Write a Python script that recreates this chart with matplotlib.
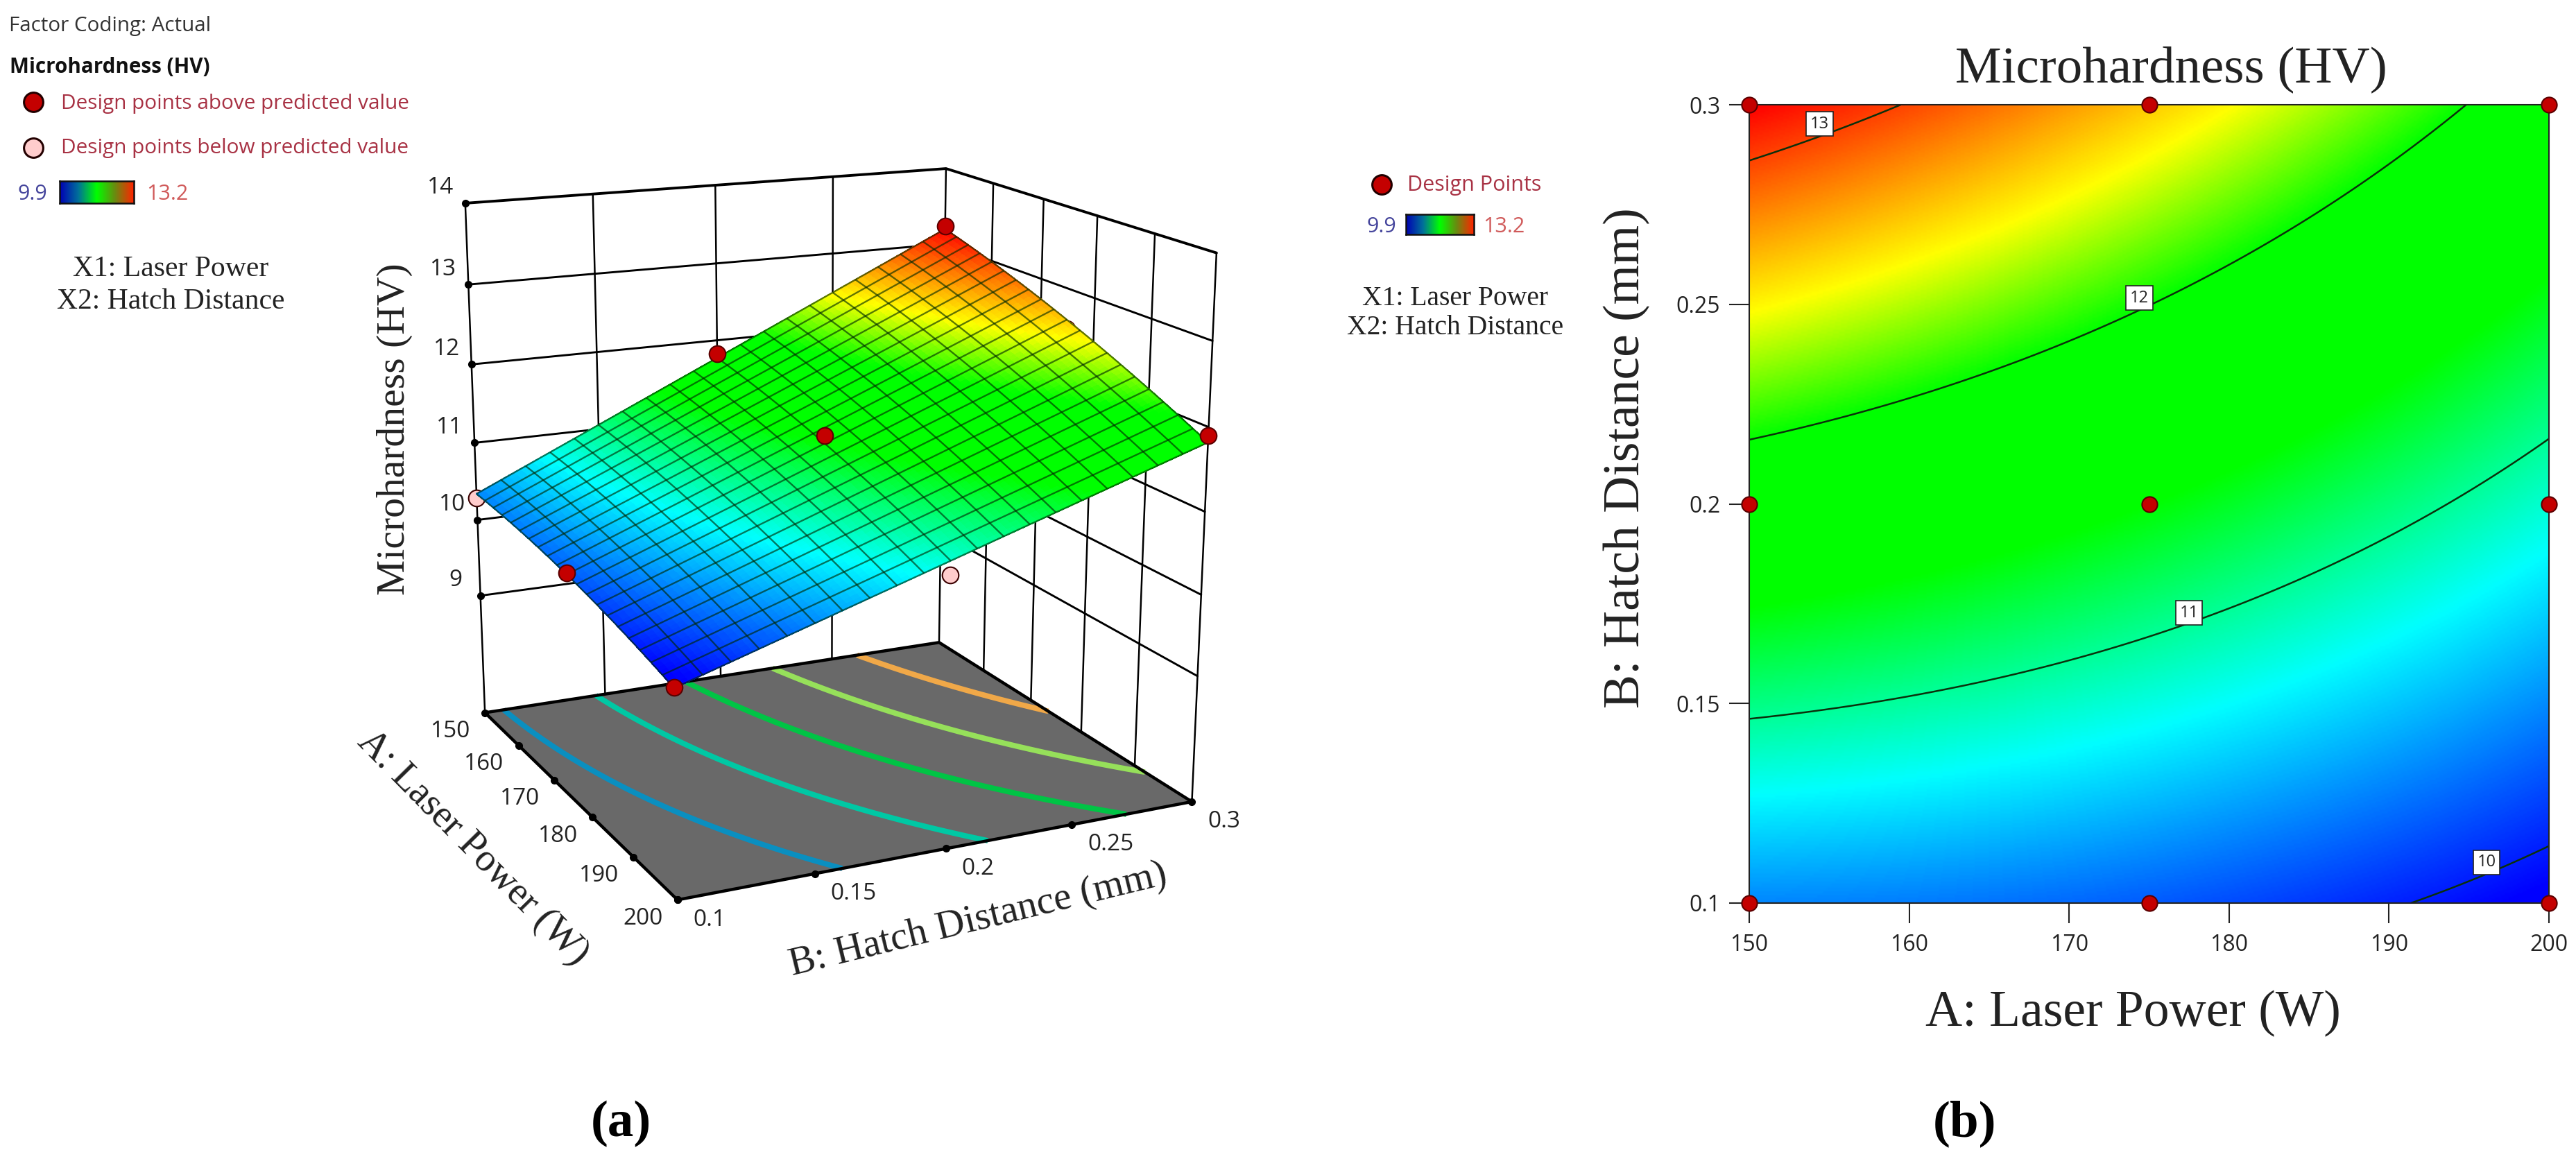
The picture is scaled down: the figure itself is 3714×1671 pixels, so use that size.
import numpy as np
import matplotlib
matplotlib.use("Agg")
import matplotlib.pyplot as plt
from matplotlib.colors import LinearSegmentedColormap
from matplotlib.lines import Line2D

W, H = 3714, 1671

# ---- data -------------------------------------------------------------
power_levels = [150, 175, 200]
hatch_levels = [0.1, 0.2, 0.3]
# predicted response (rows: power, cols: hatch)
predicted_150 = [10.34, 11.77, 13.20]
predicted_175 = [10.20, 11.40, 12.61]
predicted_200 = [9.86, 10.84, 11.82]
# design points (rows: power, cols: hatch)
design_150 = [10.29, 11.82, 13.24]
design_175 = [10.22, 11.50, 12.50]
design_200 = [9.87, 10.68, 11.90]
# True where the point is printed as "below predicted value" (pale marker)
pale_150 = [True, False, False]
pale_175 = [False, False, False]
pale_200 = [False, True, False]
power_ticks = [150, 160, 170, 180, 190, 200]
hatch_ticks = [0.1, 0.15, 0.2, 0.25, 0.3]
hatch_tick_labels = ["0.1", "0.15", "0.2", "0.25", "0.3"]
z_ticks = [9, 10, 11, 12, 13, 14]
z_floor = 7.42
floor_levels = [10.45, 11.0, 11.55, 12.1, 12.65]
floor_colors = ["#0a8fc0", "#00c8a4", "#00c445", "#96e05a", "#f0a848"]
contour_levels = [10, 11, 12, 13]
contour_label_power = [196.1, 177.5, 174.4, 154.4]
contour_label_hatch = [0.1102, 0.1727, 0.2516, 0.2952]
z_min, z_max = 9.9, 13.2
color_stops = [9.9, 10.72, 11.4, 12.0, 12.46, 13.2]
color_names = ["#0000ff", "#00ffff", "#00ff00", "#00ff00", "#ffff00", "#ff0000"]

serif = "Liberation Serif"
sans = "Open Sans"
INK = "#222222"
RED = "#c40000"
REDGE = "#3a0000"
PINK = "#ffcccc"
LEG = "#a83244"

rsm = LinearSegmentedColormap.from_list(
    "rsm", [((v - z_min) / (z_max - z_min), c) for v, c in zip(color_stops, color_names)])
legend_cmap = LinearSegmentedColormap.from_list(
    "leg", ["#0000b4", "#00709a", "#00ff00", "#6a8a10", "#ff2400"])


def response(a, b):
    """Quadratic response surface through the predicted table."""
    table = np.array([predicted_150, predicted_175, predicted_200])
    la = (np.asarray(a) - 175.0) / 25.0
    lb = (np.asarray(b) - 0.2) / 0.1
    wa = [la * (la - 1) / 2, 1 - la * la, la * (la + 1) / 2]
    wb = [lb * (lb - 1) / 2, 1 - lb * lb, lb * (lb + 1) / 2]
    out = 0
    for i in range(3):
        for j in range(3):
            out = out + table[i, j] * wa[i] * wb[j]
    return out


fx = lambda x: x / W
fy = lambda y: 1 - y / H

fig = plt.figure(figsize=(W / 100, H / 100), dpi=100, facecolor="white")

# ---- camera for panel (a): fitted to the box corners seen in the picture
anchors = [
    (150, .1, 14, 672, 296), (150, .1, 13, 677, 407), (150, .1, 12, 680, 518),
    (150, .1, 11, 684, 628), (150, .1, 10, 688, 739), (150, .1, 9, 692, 851),
    (150, .1, z_floor, 699, 1026),
    (150, .3, 14, 1362, 243), (150, .3, z_floor, 1354, 927),
    (200, .3, 14, 1750, 366), (200, .3, 13, 1746, 487), (200, .3, 12, 1741, 608),
    (200, .3, 11, 1737, 728), (200, .3, 10, 1733, 848), (200, .3, 9, 1729, 967),
    (200, .3, z_floor, 1720, 1158), (200, .1, z_floor, 977, 1296),
    (200, .15, z_floor, 1163, 1262), (200, .2, z_floor, 1349, 1227), (200, .25, z_floor, 1535, 1193),
    (160, .1, z_floor, 753, 1080), (170, .1, z_floor, 808, 1134),
    (180, .1, z_floor, 865, 1187), (190, .1, z_floor, 921, 1242),
    (150, .15, 14, 847, 285), (150, .2, 14, 1018, 271), (150, .25, 14, 1188, 258),
    (160, .3, 14, 1439, 268), (170, .3, 14, 1517, 294), (180, .3, 14, 1595, 317), (190, .3, 14, 1673, 342),
]
anc = np.array(anchors, float)
S = np.array([[1 / 25, 0, 0, -7], [0, 10, 0, -2], [0, 0, 1 / 3, -11 / 3], [0, 0, 0, 1]])
Xn = (S @ np.c_[anc[:, :3], np.ones(len(anc))].T).T
uv = anc[:, 3:] / 1000.0
rows = []
for p, (u, v) in zip(Xn, uv):
    rows.append(np.r_[p, np.zeros(4), -u * p])
    rows.append(np.r_[np.zeros(4), p, -v * p])
Pn = np.linalg.svd(np.array(rows))[2][-1].reshape(3, 4)
P = np.diag([1000.0, 1000.0, 1.0]) @ Pn @ S
if (P[2] @ np.array([175, .2, 10, 1])) < 0:
    P = -P


def project(a, b, z):
    v = P @ np.array([a, b, z, 1.0])
    return v[0] / v[2], v[1] / v[2]


ax3 = fig.add_axes([0, 0, 0.52, 1], projection="3d", computed_zorder=False)
ax3.set_axis_off()
ax3.patch.set_visible(False)
ax3.apply_aspect = lambda position=None: None
ax3.set_xlim(150, 200)
ax3.set_ylim(0.1, 0.3)
ax3.set_zlim(z_floor, 14)


def custom_proj():
    T = ax3.transData.get_affine().get_matrix()
    D = np.array([[1, 0, 0], [0, -1, H], [0, 0, 1.0]])
    Q = np.linalg.inv(T) @ D @ P
    return np.array([Q[0], Q[1], [0, 0, 0, -1.0], Q[2]])


ax3.get_proj = custom_proj

k = dict(color="black", solid_capstyle="round")
# walls: horizontal lines
for z in z_ticks:
    lw = 2.8 if z == 14 else 2.1
    ax3.plot([150, 150, 200], [.1, .3, .3], [z, z, z], lw=lw, zorder=1, **k)
# walls: vertical lines
for b in hatch_ticks:
    ax3.plot([150, 150], [b, b], [z_floor, 14], lw=1.8, zorder=1, **k)
for a in power_ticks[1:]:
    ax3.plot([a, a], [.3, .3], [z_floor, 14], lw=1.8, zorder=1, **k)

# floor
ax3.plot_surface(np.array([[150, 200], [150, 200]], float),
                 np.array([[.1, .1], [.3, .3]]),
                 np.full((2, 2), z_floor), color="#696969", shade=False,
                 linewidth=0, zorder=2)
ax3.plot([150, 200, 200, 150, 150], [.1, .1, .3, .3, .1], [z_floor] * 5,
         lw=3.2, zorder=4, **k)

# grid of response
A_f = np.linspace(150, 200, 161)
B_f = np.linspace(0.1, 0.3, 161)
AA, BB = np.meshgrid(A_f, B_f)
ZZ = response(AA, BB)
ax3.contour(AA, BB, ZZ, levels=floor_levels, colors=floor_colors, linewidths=5.6,
            zdir="z", offset=z_floor, zorder=3)

# tick dots
ax3.plot(power_ticks, [.1] * len(power_ticks), [z_floor] * len(power_ticks), "o",
         color="black", ms=7, zorder=4)
ax3.plot([200] * len(hatch_ticks), hatch_ticks, [z_floor] * len(hatch_ticks), "o",
         color="black", ms=7, zorder=4)
ax3.plot([150] * len(z_ticks), [.1] * len(z_ticks), z_ticks, "o",
         color="black", ms=7, zorder=4)

design = np.array([design_150, design_175, design_200])
pale = np.array([pale_150, pale_175, pale_200])
pred = response(*np.meshgrid(power_levels, hatch_levels, indexing="ij"))
for i, a in enumerate(power_levels):
    for j, b in enumerate(hatch_levels):
        under = design[i, j] < pred[i, j]
        ax3.plot([a], [b], [design[i, j]], "o", mfc=PINK if pale[i, j] else RED,
                 mec=REDGE if pale[i, j] else "#5a0000", mew=1.5, ms=17,
                 zorder=5 if under else 8)

# surface
A_s = np.linspace(150, 200, 81)
B_s = np.linspace(0.1, 0.3, 81)
AS, BS = np.meshgrid(A_s, B_s)
ZS = response(AS, BS)
ZC = 0.25 * (ZS[:-1, :-1] + ZS[1:, :-1] + ZS[:-1, 1:] + ZS[1:, 1:])
fc = rsm((ZC - z_min) / (z_max - z_min))
ax3.plot_surface(AS, BS, ZS, facecolors=fc, edgecolor=fc.reshape(-1, 4), rstride=1, cstride=1,
                 shade=False, linewidth=0.6, antialiased=False, zorder=6)
ax3.plot_wireframe(AS, BS, ZS, rstride=4, cstride=4, color="#002800", alpha=0.62,
                   linewidth=1.7, zorder=7)

# 3D tick labels
txt = dict(family=sans, color=INK, fontsize=24, ha="center", va="center")
for z in z_ticks:
    x, y = project(150, .1, z)
    fig.text(fx(x - 36), fy(y - 22), str(z), **txt)
for a in power_ticks:
    x, y = project(a, .1, z_floor)
    fig.text(fx(x - 50), fy(y + 27), str(a), **txt)
for b, s in zip(hatch_ticks, hatch_tick_labels):
    x, y = project(200, b, z_floor)
    off = 56 if len(s) == 4 else 46
    fig.text(fx(x + off), fy(y + 29), s, **txt)

st = dict(family=serif, color=INK, ha="center", va="center", rotation_mode="anchor")
fig.text(fx(569), fy(619), "Microhardness (HV)", fontsize=41.5, rotation=90, **st)
fig.text(fx(682), fy(1223), "A: Laser Power (W)", fontsize=40, rotation=-45.5, **st)
fig.text(fx(1410), fy(1326), "B: Hatch Distance (mm)", fontsize=41, rotation=13.7, **st)

# ---- legends ----------------------------------------------------------
fig.text(fx(13), fy(38), "Factor Coding: Actual", family=sans, fontsize=21.3, color="#333333", va="center")
fig.text(fx(14), fy(97), "Microhardness (HV)", family=sans, fontsize=21.3, fontweight="bold", color="#111111", va="center")
fig.text(fx(88), fy(149), "Design points above predicted value", family=sans, fontsize=21.4, color=LEG, va="center")
fig.text(fx(88), fy(214), "Design points below predicted value", family=sans, fontsize=21.4, color=LEG, va="center")
fig.add_artist(Line2D([fx(48)], [fy(147)], transform=fig.transFigure, marker="o", ms=20,
                      mfc=RED, mec="#220000", mew=2.2, ls="none"))
fig.add_artist(Line2D([fx(48)], [fy(213)], transform=fig.transFigure, marker="o", ms=20,
                      mfc=PINK, mec="#220000", mew=2.2, ls="none"))
fig.add_artist(Line2D([fx(1992)], [fy(266)], transform=fig.transFigure, marker="o", ms=20,
                      mfc=RED, mec="#220000", mew=2.2, ls="none"))
fig.text(fx(2029), fy(267), "Design Points", family=sans, fontsize=22, color=LEG, va="center")


def colorbar(x0, x1, y0, y1):
    c = fig.add_axes([fx(x0), fy(y1), fx(x1 - x0), (y1 - y0) / H])
    c.imshow(np.linspace(0, 1, 200)[None, :], cmap=legend_cmap, aspect="auto")
    c.set_xticks([])
    c.set_yticks([])
    for s in c.spines.values():
        s.set_linewidth(1.8)
        s.set_color("#111111")


colorbar(86, 193, 261, 293)
colorbar(2027, 2125, 309, 338)
for cx1, cx2, cy in [(47, 241, 280), (1992, 2168, 327)]:
    fig.text(fx(cx1), fy(cy), "9.9", family=sans, fontsize=22, color="#45459c", ha="center", va="center")
    fig.text(fx(cx2), fy(cy), "13.2", family=sans, fontsize=22, color="#d05a5a", ha="center", va="center")

fig.text(fx(246), fy(388), "X1: Laser Power", family=serif, fontsize=30, color=INK, ha="center", va="center")
fig.text(fx(246), fy(435), "X2: Hatch Distance", family=serif, fontsize=30, color=INK, ha="center", va="center")
fig.text(fx(2098), fy(430), "X1: Laser Power", family=serif, fontsize=28.5, color=INK, ha="center", va="center")
fig.text(fx(2098), fy(472), "X2: Hatch Distance", family=serif, fontsize=28.5, color=INK, ha="center", va="center")
fig.text(fx(895), fy(1620), "(a)", family=serif, fontsize=54, fontweight="bold", color="black", ha="center", va="center")
fig.text(fx(2833), fy(1620), "(b)", family=serif, fontsize=54, fontweight="bold", color="black", ha="center", va="center")

# ---- panel (b) --------------------------------------------------------
axb = fig.add_axes([fx(2522), fy(1302), fx(3675 - 2522), (1302 - 151) / H])
A_b = np.linspace(150, 200, 401)
B_b = np.linspace(0.1, 0.3, 401)
AB, BB2 = np.meshgrid(A_b, B_b)
Zb = response(AB, BB2)
axb.imshow(Zb, origin="lower", extent=[150, 200, 0.1, 0.3], aspect="auto",
           cmap=rsm, vmin=z_min, vmax=z_max, interpolation="bilinear")
axb.contour(AB, BB2, Zb, levels=contour_levels, colors="#0b300b", linewidths=1.8)
for lv, a, b in zip(contour_levels, contour_label_power, contour_label_hatch):
    axb.text(a, b, str(lv), family=sans, fontsize=17, ha="center", va="center", color="#222222",
             zorder=6, bbox=dict(boxstyle="square,pad=0.24", fc="white", ec="#222222", lw=1.2))
axb.set_xlim(150, 200)
axb.set_ylim(0.1, 0.3)
axb.set_xticks(power_ticks)
axb.set_yticks(hatch_ticks)
axb.set_yticklabels(hatch_tick_labels)
axb.tick_params(axis="x", length=21, width=1.5, color="#222222", pad=11,
                labelsize=23, labelcolor=INK)
axb.tick_params(axis="y", length=21, width=1.5, color="#222222", pad=9,
                labelsize=23, labelcolor=INK)
for t in axb.get_xticklabels() + axb.get_yticklabels():
    t.set_family(sans)
for s in axb.spines.values():
    s.set_linewidth(1.5)
    s.set_color("#222222")
PA, PB = np.meshgrid(power_levels, hatch_levels)
axb.plot(PA.ravel(), PB.ravel(), "o", mfc=RED, mec="#5a0000", mew=1.5, ms=16, clip_on=False, zorder=7)
fig.text(fx(3130), fy(100), "Microhardness (HV)", family=serif, fontsize=54, color=INK, ha="center", va="center")
fig.text(fx(3075), fy(1461), "A: Laser Power (W)", family=serif, fontsize=53, color=INK, ha="center", va="center")
fig.text(fx(2345), fy(660), "B: Hatch Distance (mm)", family=serif, fontsize=53, color=INK, rotation=90, ha="center", va="center")

fig.savefig("out.png", dpi=100)
